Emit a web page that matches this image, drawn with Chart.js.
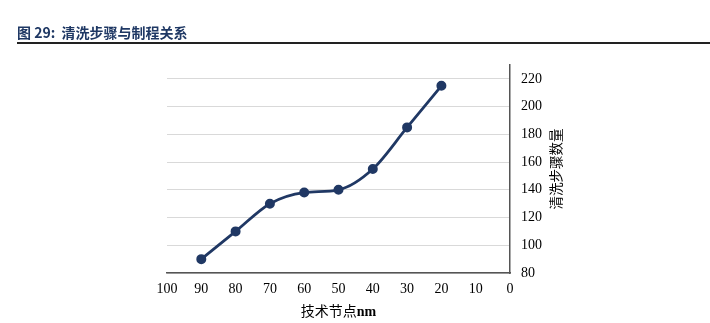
<!DOCTYPE html>
<html><head><meta charset="utf-8">
<script src="https://cdn.jsdelivr.net/npm/chart.js@4"></script>
<style>
html,body{margin:0;padding:0;background:#fff;width:710px;height:323px;overflow:hidden;}
#hdr{position:absolute;left:17px;top:22px;font:bold 14px "Noto Sans CJK SC","Liberation Sans",sans-serif;color:#1F3864;white-space:nowrap;}
#rule{position:absolute;left:17px;top:42px;width:693px;height:2px;background:#222;}
#wrap{position:absolute;left:0;top:0;width:710px;height:323px;}
</style></head>
<body>
<div id="wrap"><canvas id="c" width="710" height="323"></canvas></div>
<div id="hdr">图 29:&nbsp; 清洗步骤与制程关系</div>
<div id="rule"></div>
<script>
const techNodes = [90, 80, 70, 60, 50, 40, 30, 20];
const cleanSteps = [90, 110, 130, 138, 140, 155, 185, 215];
const yTickValues = [80, 100, 120, 140, 160, 180, 200, 220];
const xTitleCn = "技术节点";
const xTitleUnit = "nm";
const yTitle = "清洗步骤数量";

const titles = {
  id: 'titles',
  afterDraw(chart) {
    const ctx = chart.ctx;
    const a = chart.chartArea;
    ctx.save();
    ctx.fillStyle = '#000';
    ctx.textBaseline = 'middle';
    ctx.font = '14px "Noto Sans CJK SC"';
    const w1 = ctx.measureText(xTitleCn).width;
    ctx.font = 'bold 14px "Liberation Serif"';
    const w2 = ctx.measureText(xTitleUnit).width;
    let x0 = (a.left + a.right) / 2 - (w1 + w2) / 2;
    ctx.textAlign = 'left';
    ctx.font = '14px "Noto Sans CJK SC"';
    ctx.fillText(xTitleCn, x0, 311);
    ctx.font = 'bold 14px "Liberation Serif"';
    ctx.fillText(xTitleUnit, x0 + w1, 312);
    ctx.translate(556, 169);
    ctx.rotate(-Math.PI / 2);
    ctx.textAlign = 'center';
    ctx.font = '13.5px "Noto Sans CJK SC"';
    ctx.fillText(yTitle, 0, 0);
    ctx.restore();
  }
};

new Chart(document.getElementById('c'), {
  type: 'line',
  data: {
    datasets: [{
      data: techNodes.map((x, i) => ({x: x, y: cleanSteps[i]})),
      borderColor: '#203864',
      backgroundColor: '#203864',
      borderWidth: 2.8,
      pointRadius: 3.6,
      pointHoverRadius: 3.6,
      cubicInterpolationMode: 'monotone'
    }]
  },
  options: {
    responsive: false,
    animation: false,
    plugins: {legend: {display: false}, tooltip: {enabled: false}},
    layout: {padding: {left: 167, top: 65, right: 0, bottom: 0}},
    scales: {
      x: {
        type: 'linear', reverse: true, min: 0, max: 100,
        border: {display: true, color: '#555', width: 1.5},
        grid: {display: false, drawTicks: false},
        ticks: {stepSize: 10, padding: 8, color: '#000', font: {family: '"Liberation Serif"', size: 14}, maxRotation: 0},
        afterFit(s) { s.height = 50; }
      },
      y: {
        position: 'right', min: 80, max: 230,
        border: {display: true, color: '#555', width: 1.5},
        grid: {color: '#d9d9d9', drawTicks: false, lineWidth: 1},
        ticks: {padding: 11, color: '#000', font: {family: '"Liberation Serif"', size: 14}},
        afterBuildTicks(s) { s.ticks = yTickValues.map(v => ({value: v})); },
        afterFit(s) { s.width = 200; }
      }
    }
  },
  plugins: [titles]
});
</script>
</body></html>
